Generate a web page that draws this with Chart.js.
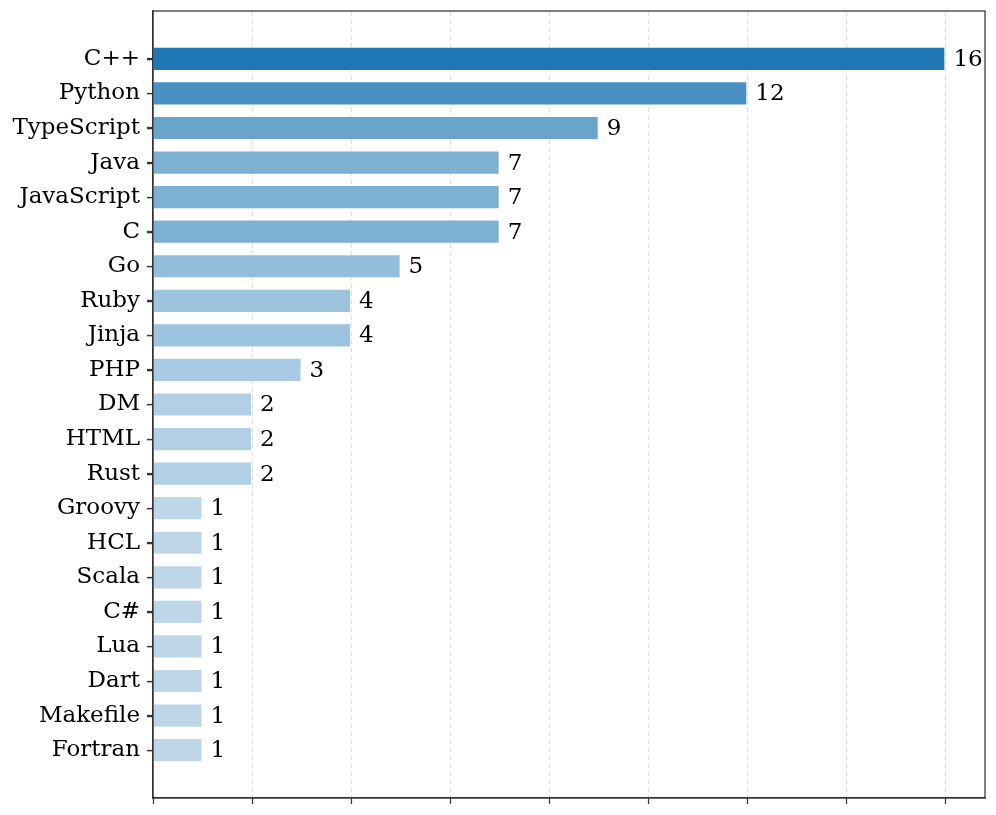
<!DOCTYPE html>
<html>
<head>
<meta charset="utf-8">
<script src="https://cdn.jsdelivr.net/npm/chart.js@4/dist/chart.umd.min.js"></script>
<style>
  html, body { margin: 0; padding: 0; background: #fff; }
  #wrap { width: 996px; height: 815px; }
</style>
</head>
<body>
<div id="wrap"><canvas id="c" width="996" height="815"></canvas></div>
<script>
const langs = ["C++", "Python", "TypeScript", "Java", "JavaScript", "C", "Go", "Ruby", "Jinja", "PHP",
  "DM", "HTML", "Rust", "Groovy", "HCL", "Scala", "C#", "Lua", "Dart", "Makefile", "Fortran"];
const counts = [16, 12, 9, 7, 7, 7, 5, 4, 4, 3, 2, 2, 2, 1, 1, 1, 1, 1, 1, 1, 1];
const xTicks = [0, 2, 4, 6, 8, 10, 12, 14, 16];

const FONT = "'DejaVu Serif', serif";
const FONT_SIZE = 23;
const maxCount = Math.max(...counts);
function shade(v) {
  const a = 0.25 + 0.75 * v / maxCount;
  const base = [31, 119, 180];
  const c = base.map(ch => Math.round(255 - a * (255 - ch)));
  return `rgb(${c[0]},${c[1]},${c[2]})`;
}

const valueLabels = {
  id: 'valueLabels',
  afterDatasetsDraw(chart) {
    const ctx = chart.ctx;
    const meta = chart.getDatasetMeta(0);
    ctx.save();
    ctx.font = `${FONT_SIZE}px ${FONT}`;
    ctx.fillStyle = '#000';
    ctx.textAlign = 'left';
    ctx.textBaseline = 'middle';
    meta.data.forEach((bar, i) => {
      ctx.fillText(String(counts[i]), bar.x + 8, bar.y + 1);
    });
    ctx.restore();
  }
};

const frame = {
  id: 'frame',
  afterDraw(chart) {
    const a = chart.chartArea;
    const ctx = chart.ctx;
    const ys = chart.scales.y;
    ctx.save();
    ctx.strokeStyle = '#333';
    ctx.lineWidth = 1.25;
    ctx.beginPath();
    ys.ticks.forEach(t => {
      const py = Math.round(ys.getPixelForValue(t.value)) + 0.5;
      ctx.moveTo(a.left - 6, py);
      ctx.lineTo(a.left, py);
    });
    ctx.stroke();
    ctx.strokeRect(a.left, a.top, a.right - a.left, a.bottom - a.top);
    ctx.restore();
  }
};

new Chart(document.getElementById('c'), {
  type: 'bar',
  data: {
    datasets: [{
      data: counts.map((v, i) => ({ x: v, y: i })),
      backgroundColor: counts.map(shade),
      borderColor: 'rgba(255,255,255,0.45)',
      borderWidth: 1,
      categoryPercentage: 1,
      barPercentage: 0.7
    }]
  },
  options: {
    indexAxis: 'y',
    responsive: false,
    animation: false,
    layout: { padding: { top: 11, right: 11, left: 0, bottom: 0 } },
    plugins: { legend: { display: false }, tooltip: { enabled: false } },
    scales: {
      x: {
        type: 'linear',
        min: 0,
        max: 16.8,
        offset: false,
        afterBuildTicks(scale) { scale.ticks = xTicks.map(v => ({ value: v })); },
        afterFit(scale) { scale.height = 17; scale.paddingLeft = 0; scale.paddingRight = 0; },
        ticks: { display: false },
        grid: {
          display: true,
          offset: false,
          drawOnChartArea: true,
          drawTicks: true,
          tickLength: 6,
          color: 'rgba(0,0,0,0.12)',
          tickColor: '#333',
          tickWidth: 1.25,
          lineWidth: 1
        },
        border: { display: true, color: '#333', width: 1.25, dash: [5, 3] }
      },
      y: {
        type: 'linear',
        reverse: true,
        offset: false,
        min: -1.385,
        max: 21.385,
        afterBuildTicks(scale) { scale.ticks = counts.map((_, i) => ({ value: i })); },
        afterFit(scale) { scale.width = 153; scale.paddingTop = 0; scale.paddingBottom = 0; },
        ticks: {
          callback: (v) => langs[v],
          font: { family: FONT, size: FONT_SIZE },
          color: '#000',
          padding: 7,
          autoSkip: false
        },
        grid: {
          display: true,
          offset: false,
          drawOnChartArea: false,
          drawTicks: true,
          tickLength: 6,
          color: '#333',
          tickColor: '#333',
          tickWidth: 1.25
        },
        border: { display: true, color: '#333', width: 1.25 }
      }
    }
  },
  plugins: [valueLabels, frame]
});
</script>
</body>
</html>
